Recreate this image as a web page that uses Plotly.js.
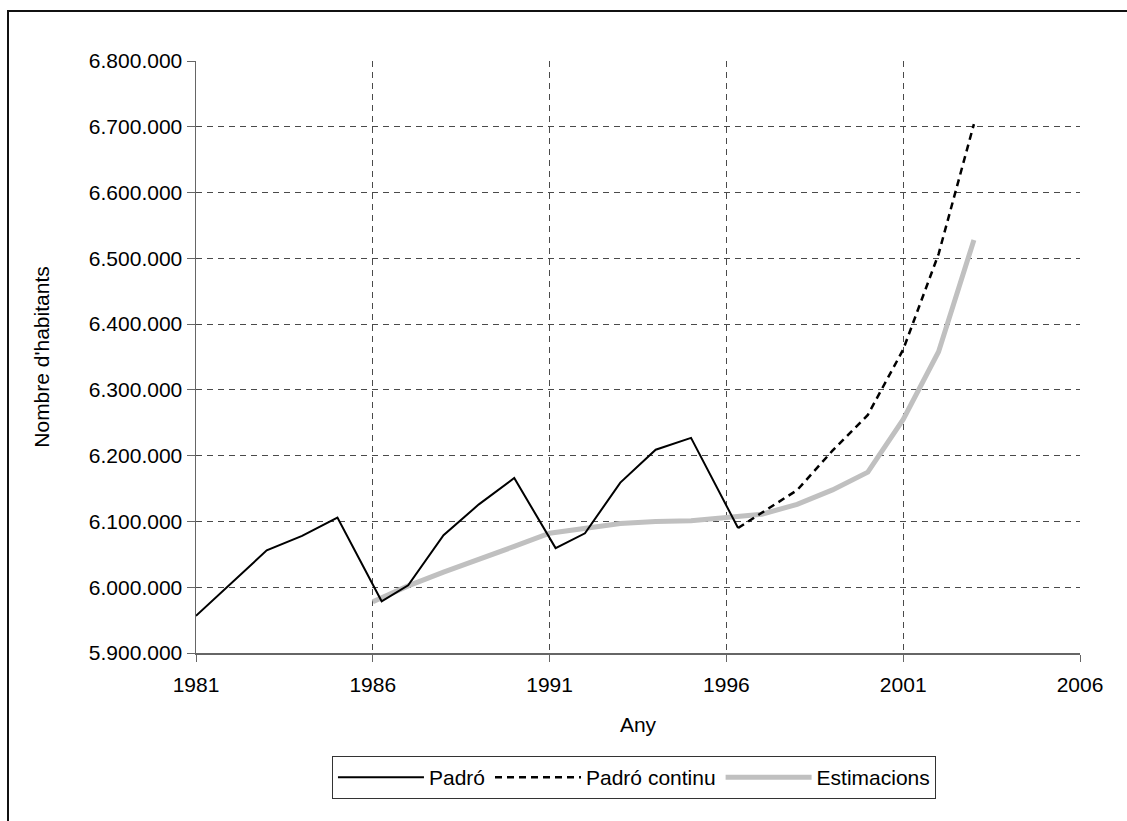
<!DOCTYPE html>
<html>
<head>
<meta charset="utf-8">
<script src="https://cdn.plot.ly/plotly-3.0.1.min.js"></script>
<style>
  html, body { margin: 0; padding: 0; overflow: hidden; background: #fff; }
  #chart { width: 1127px; height: 821px; }
  #frame { position: absolute; left: 7px; top: 10px; width: 1200px; height: 900px;
           border-left: 2px solid #111; border-top: 2px solid #111; pointer-events: none; }
</style>
</head>
<body>
<div id="chart"></div>
<div id="frame"></div>
<script>
// Padró (censos i padrons, amb dates reals de referència)
var padroYears = [1981, 1982, 1983, 1984, 1985, 1986.25, 1987, 1988, 1989, 1990, 1991.17, 1992, 1993, 1994, 1995, 1996.33];
var padroVals = [5956414, 6006000, 6056000, 6078000, 6106000, 5978638, 6003000, 6079000, 6126000, 6166000, 6059494, 6082000, 6159000, 6209000, 6227000, 6090040];

// Padró continu
var continuYears = [1996.33, 1998, 1999, 2000, 2001, 2002, 2003];
var continuVals = [6090040, 6147610, 6207533, 6261999, 6361365, 6506440, 6704146];

// Estimacions
var estYears = [1986, 1987, 1988, 1989, 1990, 1991, 1992, 1993, 1994, 1995, 1996, 1997, 1998, 1999, 2000, 2001, 2002, 2003];
var estVals = [5978000, 6002000, 6023000, 6042000, 6062000, 6082000, 6089000, 6097000, 6100000, 6101000, 6106000, 6111000, 6126000, 6148000, 6175000, 6255000, 6358000, 6528000];

var FONT = "Liberation Sans, Arial, sans-serif";

var data = [
  {
    x: estYears, y: estVals, name: "Estimacions", mode: "lines", legendrank: 3,
    line: { color: "#c0c0c0", width: 5 }
  },
  {
    x: padroYears, y: padroVals, name: "Padró", mode: "lines", legendrank: 1,
    line: { color: "#000", width: 2 }
  },
  {
    x: continuYears, y: continuVals, name: "Padró continu", mode: "lines", legendrank: 2,
    line: { color: "#000", width: 2.5, dash: "7px,5px" }
  }
];

var layout = {
  width: 1127,
  height: 821,
  separators: ",.",
  paper_bgcolor: "#fff",
  plot_bgcolor: "#fff",
  font: { family: FONT, size: 21, color: "#000" },
  margin: { l: 196, r: 47, t: 61, b: 168 },
  showlegend: true,
  legend: {
    orientation: "h",
    x: 0.1538, xanchor: "left",
    y: -0.174, yanchor: "top",
    bordercolor: "#333", borderwidth: 1,
    font: { family: FONT, size: 21 },
    traceorder: "normal",
    itemwidth: 86
  },
  xaxis: {
    range: [1981, 2006],
    tick0: 1981, dtick: 5,
    showline: true, linecolor: "#666", linewidth: 1.5,
    ticks: "outside", ticklen: 7, tickcolor: "#666",
    ticklabelstandoff: 5,
    showgrid: true, gridcolor: "#4a4a4a", griddash: "6px,5px", gridwidth: 1,
    zeroline: false,
    title: { text: "Any", standoff: 22, font: { family: FONT, size: 21 } }
  },
  yaxis: {
    range: [5900000, 6800000],
    tick0: 5900000, dtick: 100000,
    tickformat: ",.0f",
    showline: true, linecolor: "#666", linewidth: 1.5,
    ticks: "outside", ticklen: 8, tickcolor: "#666",
    showgrid: true, gridcolor: "#4a4a4a", griddash: "6px,5px", gridwidth: 1,
    zeroline: false,
    title: { text: "Nombre d'habitants", standoff: 33, font: { family: FONT, size: 21 } }
  }
};

Plotly.newPlot("chart", data, layout, { displayModeBar: false, staticPlot: true });
</script>
</body>
</html>
